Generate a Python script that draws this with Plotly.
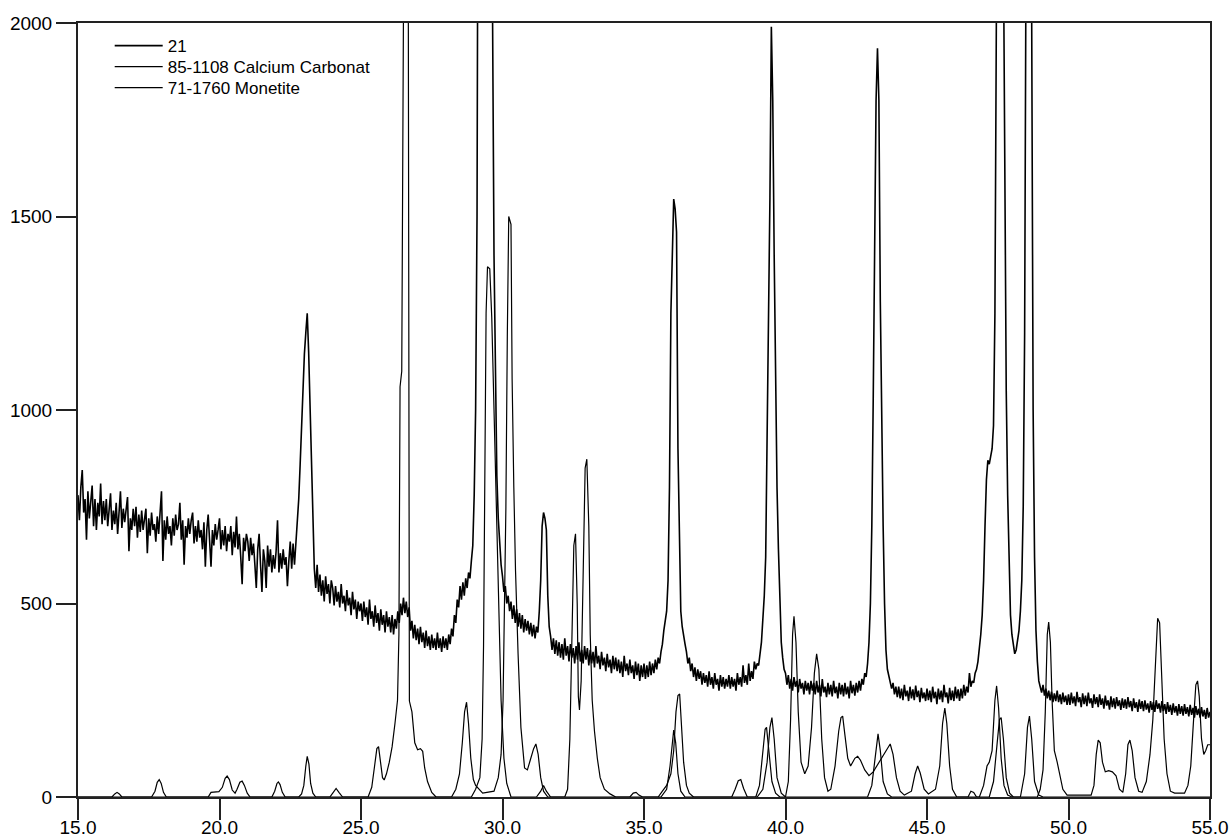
import plotly.graph_objects as go

# ---------------- data ----------------
# Sample "21": scan from 15.00 to 55.00 deg 2-theta, step 0.05 deg
SCAN_START = 15.0
SCAN_STEP = 0.05

counts_21 = [
    # 15.00 - 15.95
    780, 715, 800, 845, 735, 770, 665, 790, 720, 755, 805, 700, 770, 690, 760, 725, 810, 705, 765, 715,
    # 16
    770, 700, 745, 785, 690, 740, 705, 760, 680, 735, 790, 695, 745, 710, 750, 775, 635, 720, 690, 745,
    # 17
    700, 750, 670, 730, 685, 740, 690, 715, 745, 630, 720, 675, 735, 690, 705, 660, 725, 680, 740, 790,
    # 18
    610, 715, 665, 725, 680, 700, 650, 720, 675, 730, 690, 705, 760, 665, 715, 600, 700, 670, 720, 680,
    # 19
    715, 735, 655, 700, 660, 715, 670, 690, 640, 710, 595, 690, 730, 660, 595, 690, 650, 705, 665, 690,
    # 20
    720, 640, 690, 650, 700, 635, 680, 660, 700, 625, 685, 645, 725, 640, 680, 620, 550, 670, 635, 680,
    # 21
    660, 610, 670, 625, 655, 600, 540, 640, 680, 600, 530, 640, 610, 540, 650, 595, 640, 580, 625, 590,
    # 22
    635, 715, 580, 630, 590, 640, 600, 620, 545, 610, 660, 590, 655, 600, 660, 690, 770, 860, 970, 1090,
    # 23
    1145, 1200, 1250, 1150, 1000, 850, 710, 590, 540, 600, 530, 575, 520, 560, 505, 570, 525, 550, 500, 560,
    # 24
    540, 495, 545, 505, 530, 490, 550, 500, 520, 480, 535, 495, 515, 470, 530, 485, 510, 460, 505, 480,
    # 25
    500, 455, 505, 465, 490, 445, 510, 460, 480, 440, 495, 450, 475, 430, 485, 445, 470, 425, 480, 440,
    # 26
    465, 425, 470, 420, 460, 435, 480, 450, 500, 470, 515, 475, 505, 465, 490, 430, 455, 410, 445, 405,
    # 27
    435, 395, 440, 400, 425, 385, 430, 390, 415, 380, 420, 385, 410, 380, 425, 385, 410, 375, 415, 385,
    # 28
    410, 380, 420, 395, 435, 415, 470, 450, 510, 490, 545, 510, 555, 520, 565, 540, 580, 565, 610, 650,
    # 29
    780, 1000, 1500, 2300, 4000, 6000, 8000, 9500, 10000, 9000, 7000, 4500, 3000, 2000, 1400, 1050, 830, 720, 650, 600,
    # 30
    570, 530, 545, 500, 520, 480, 505, 460, 495, 450, 485, 440, 475, 435, 470, 425, 460, 430, 455, 420,
    # 31
    450, 415, 445, 410, 440, 425, 480, 560, 700, 735, 720, 690, 520, 440, 415, 380, 410, 370, 405, 365,
    # 32
    400, 360, 395, 355, 410, 365, 390, 350, 395, 360, 385, 345, 390, 355, 400, 350, 380, 345, 390, 355,
    # 33
    385, 340, 380, 345, 375, 335, 390, 345, 365, 330, 375, 340, 360, 325, 370, 335, 355, 320, 365, 330,
    # 34
    360, 325, 355, 320, 350, 310, 365, 325, 345, 315, 355, 320, 340, 305, 350, 315, 345, 300, 340, 310,
    # 35
    345, 305, 340, 310, 350, 315, 345, 320, 355, 330, 360, 345, 375, 395, 430, 455, 480, 560, 800, 1250,
    # 36
    1420, 1545, 1520, 1460, 900, 620, 480, 440, 410, 395, 375, 345, 360, 325, 345, 310, 335, 300, 330, 305,
    # 37
    325, 290, 320, 295, 315, 285, 325, 290, 310, 280, 320, 290, 305, 275, 315, 285, 310, 280, 305, 285,
    # 38
    315, 280, 310, 285, 305, 275, 320, 290, 310, 285, 340, 295, 315, 290, 345, 300, 325, 305, 350, 330,
    # 39
    345, 340, 370, 400, 460, 520, 620, 900, 1200, 1550, 1990, 1800, 1400, 1050, 800, 640, 480, 400, 360, 330,
    # 40
    320, 290, 315, 280, 305, 275, 310, 285, 300, 270, 305, 280, 295, 265, 300, 275, 295, 265, 300, 275,
    # 41
    295, 265, 300, 270, 290, 260, 305, 270, 285, 258, 295, 265, 290, 260, 300, 268, 285, 255, 295, 265,
    # 42
    290, 260, 295, 265, 285, 255, 300, 268, 290, 262, 295, 270, 300, 275, 305, 290, 320, 310, 345, 400,
    # 43
    500, 700, 1030, 1400, 1800, 1935, 1800, 1280, 900, 700, 500, 380, 330, 310, 300, 280, 295, 265, 285, 258,
    # 44
    285, 255, 280, 250, 290, 260, 275, 248, 285, 255, 278, 250, 288, 258, 275, 245, 282, 255, 270, 248,
    # 45
    280, 250, 275, 245, 285, 255, 272, 240, 280, 252, 275, 245, 290, 258, 270, 242, 282, 250, 275, 248,
    # 46
    285, 255, 278, 248, 280, 255, 290, 262, 285, 270, 320, 285, 300, 295, 320, 330, 350, 380, 420, 470,
    # 47
    560, 700, 820, 870, 860, 880, 900, 960, 1250, 2000, 3200, 3800, 3900, 3300, 2200, 1500, 1050, 780, 570, 470,
    # 48
    420, 390, 370, 380, 400, 430, 480, 560, 750, 1200, 2200, 3500, 4000, 3200, 2000, 1000, 620, 430, 350, 300,
    # 49
    285, 270, 290, 262, 280, 255, 275, 250, 272, 245, 268, 248, 275, 245, 265, 240, 270, 245, 262, 238,
    # 50
    265, 238, 270, 242, 260, 235, 272, 245, 258, 232, 268, 240, 262, 235, 270, 242, 255, 230, 265, 240,
    # 51
    258, 232, 265, 238, 255, 228, 262, 236, 250, 226, 260, 232, 255, 228, 258, 235, 250, 225, 255, 230,
    # 52
    252, 228, 258, 232, 248, 222, 255, 230, 245, 220, 252, 228, 248, 222, 250, 226, 242, 218, 248, 225,
    # 53
    245, 220, 250, 228, 242, 218, 248, 222, 240, 215, 245, 220, 238, 212, 242, 218, 235, 210, 240, 215,
    # 54
    235, 210, 240, 215, 232, 208, 238, 212, 230, 205, 235, 212, 228, 205, 232, 208, 225, 202, 230, 205,
    # 55.00
    220,
]
two_theta_21 = [round(SCAN_START + i * SCAN_STEP, 2) for i in range(len(counts_21))]

# Reference pattern 85-1108 Calcium Carbonate (profile points)
calcite_2theta = [
    15.0, 22.8, 22.9, 22.98, 23.05, 23.1, 23.16, 23.22, 23.3, 23.4,
    28.9, 29.05, 29.2, 29.28, 29.33, 29.38, 29.42, 29.47, 29.55, 29.62, 29.7, 29.78, 29.86, 29.95, 30.05, 30.15, 30.3,
    31.2, 31.35, 31.45, 31.55, 31.7,
    35.6, 35.8, 35.92, 36.0, 36.05, 36.12, 36.2, 36.3, 36.45,
    39.0, 39.2, 39.35, 39.45, 39.52, 39.6, 39.7, 39.85, 40.0,
    42.9, 43.05, 43.17, 43.27, 43.35, 43.45, 43.6, 43.75,
    46.85, 47.0, 47.12, 47.2, 47.3, 47.4, 47.46, 47.53, 47.62, 47.72, 47.85, 48.0,
    48.3, 48.45, 48.55, 48.62, 48.7, 48.8, 48.95, 49.1,
    55.0,
]
calcite_counts = [
    0, 0, 8, 30, 80, 105, 85, 35, 10, 0,
    0, 20, 50, 150, 390, 800, 1250, 1370, 1365, 1240, 1000, 740, 480, 250, 100, 35, 0,
    0, 15, 30, 15, 0,
    0, 20, 80, 150, 173, 140, 60, 15, 0,
    0, 20, 90, 180, 205, 150, 50, 10, 0,
    0, 30, 110, 163, 120, 40, 8, 0,
    0, 30, 80, 90, 120, 250, 287, 230, 100, 30, 5, 0,
    0, 60, 180, 209, 150, 40, 5, 0,
    0,
]

# Reference pattern 71-1760 Monetite (profile points)
monetite_2theta = [
    15.0, 16.2, 16.3, 16.38, 16.46, 16.55,
    17.6, 17.72, 17.8, 17.87, 17.94, 18.02, 18.12,
    19.6, 19.7, 19.85, 19.98, 20.1, 20.2, 20.27, 20.35, 20.45, 20.55, 20.62, 20.72, 20.8, 20.88, 20.98, 21.08,
    21.85, 21.95, 22.03, 22.08, 22.14, 22.22, 22.32,
    23.9, 24.02, 24.12, 24.22, 24.35,
    25.25, 25.38, 25.48, 25.56, 25.62, 25.68, 25.76, 25.82, 25.9, 26.0, 26.1, 26.2, 26.29, 26.34, 26.38,
    26.44, 26.47, 26.55, 26.66, 26.69, 26.71, 26.8, 26.9, 27.0, 27.1, 27.18, 27.25, 27.35, 27.5, 27.65,
    28.2, 28.35, 28.48, 28.58, 28.66, 28.73, 28.8, 28.88, 28.97, 29.05, 29.3,
    29.7, 29.85, 29.95, 30.02, 30.07, 30.12, 30.17, 30.22, 30.3, 30.34, 30.4, 30.46, 30.55, 30.65, 30.78,
    30.88, 30.98, 31.1, 31.18, 31.26, 31.35, 31.45, 31.6,
    32.2, 32.3, 32.38, 32.45, 32.52, 32.58, 32.64, 32.68, 32.72, 32.78, 32.85, 32.92, 32.98, 33.05, 33.1,
    33.17, 33.25, 33.35, 33.45, 33.6, 33.8, 34.0,
    34.5, 34.62, 34.72, 34.82, 34.95,
    35.5, 35.65, 35.8, 35.95, 36.05, 36.13, 36.2, 36.26, 36.32, 36.4, 36.5, 36.6, 36.75,
    38.1, 38.22, 38.33, 38.42, 38.52, 38.65,
    38.95, 39.08, 39.2, 39.28, 39.33, 39.42, 39.52, 39.65, 39.8,
    40.0, 40.1, 40.18, 40.25, 40.3, 40.37, 40.45, 40.55, 40.68, 40.8, 40.92, 41.02, 41.1, 41.18, 41.28,
    41.38, 41.5, 41.6, 41.75, 41.88, 41.96, 42.02, 42.1, 42.2, 42.3, 42.45, 42.55, 42.65, 42.8, 42.95,
    43.1, 43.3, 43.5, 43.62, 43.7, 43.8, 43.92, 44.05, 44.2, 44.45, 44.58, 44.67, 44.76, 44.9, 45.05,
    45.3, 45.45, 45.55, 45.63, 45.7, 45.8, 45.9, 46.05, 46.45, 46.55, 46.65, 46.75,
    47.2, 47.35, 47.48, 47.56, 47.62, 47.7, 47.8, 47.92, 48.05,
    48.9, 49.0, 49.1, 49.18, 49.25, 49.3, 49.36, 49.42, 49.5, 49.6, 49.7, 49.8, 49.95,
    50.8, 50.9, 50.98, 51.05, 51.12, 51.2, 51.3, 51.42, 51.55, 51.68, 51.8, 51.92, 52.02, 52.1, 52.17,
    52.25, 52.35, 52.48, 52.6, 52.75, 52.88, 52.98, 53.08, 53.15, 53.22, 53.3, 53.38, 53.48, 53.6, 53.75,
    54.1, 54.22, 54.32, 54.42, 54.5, 54.56, 54.62, 54.7, 54.78, 54.85, 54.92, 55.0,
]
monetite_counts = [
    0, 0, 8, 12, 8, 0,
    0, 15, 38, 45, 35, 12, 0,
    0, 12, 14, 14, 25, 48, 54, 45, 18, 10, 20, 38, 41, 30, 10, 0,
    0, 15, 35, 39, 32, 12, 0,
    0, 12, 22, 12, 0,
    0, 25, 80, 125, 130, 95, 50, 44, 60, 90, 130, 190, 250, 420, 1060,
    1100, 2600, 2800, 2600, 1000, 248, 220, 140, 122, 125, 118, 75, 40, 12, 0,
    0, 20, 60, 140, 220, 245, 190, 100, 45, 30, 10,
    15, 50, 110, 250, 500, 750, 1190, 1500, 1480, 1080, 800, 585, 370, 180, 75,
    70, 95, 125, 137, 110, 50, 15, 0,
    0, 20, 150, 400, 650, 680, 500, 260, 225, 300, 600, 850, 873, 700, 420,
    250, 170, 100, 50, 20, 8, 0,
    0, 10, 12, 5, 0,
    0, 15, 30, 60, 120, 220, 262, 266, 200, 90, 30, 10, 0,
    0, 20, 42, 45, 22, 0,
    0, 30, 110, 175, 180, 110, 40, 10, 0,
    0, 40, 200, 420, 467, 400, 220, 90, 60, 80, 180, 320, 370, 330, 150,
    50, 15, 20, 80, 170, 205, 209, 160, 100, 80, 100, 105, 95, 70, 55,
    65, 90, 115, 130, 137, 110, 50, 15, 5, 15, 60, 80, 62, 20, 8,
    20, 80, 190, 230, 190, 80, 20, 0, 0, 15, 12, 0,
    0, 40, 140, 200, 205, 150, 50, 10, 0,
    0, 20, 70, 220, 420, 452, 400, 250, 120, 90, 50, 20, 5,
    5, 30, 110, 147, 140, 90, 65, 68, 65, 55, 20, 12, 60, 135, 147,
    120, 50, 15, 12, 40, 110, 200, 380, 462, 450, 300, 150, 60, 15, 10,
    10, 30, 80, 200, 290, 300, 260, 150, 110, 120, 135, 135,
]

series_names = ["21", "85-1108 Calcium Carbonat", "71-1760 Monetite"]
x_tick_values = [15, 20, 25, 30, 35, 40, 45, 50, 55]
y_tick_values = [0, 500, 1000, 1500, 2000]

# ---------------- figure ----------------
FONT = "Liberation Sans, Arial, Helvetica, sans-serif"

fig = go.Figure()
traces = [
    (two_theta_21, counts_21, series_names[0], 1.6, "legend"),
    (calcite_2theta, calcite_counts, series_names[1], 1.2, "legend2"),
    (monetite_2theta, monetite_counts, series_names[2], 1.2, "legend3"),
]
for xs, ys, name, w, lg in traces:
    fig.add_trace(go.Scatter(
        x=xs, y=ys, mode="lines", name=name, legend=lg,
        line=dict(color="black", width=w),
        hoverinfo="skip",
    ))

legend_style = dict(
    x=0.028, xanchor="left", yanchor="top",
    bgcolor="rgba(0,0,0,0)", borderwidth=0,
    font=dict(family=FONT, size=17, color="black"),
    itemwidth=48,
)

fig.update_layout(
    template="none",
    width=1231, height=840,
    margin=dict(l=78, r=21, t=23, b=43, autoexpand=False),
    paper_bgcolor="white", plot_bgcolor="white",
    font=dict(family=FONT, size=19, color="black"),
    showlegend=True,
    legend=dict(y=0.9935, **legend_style),
    legend2=dict(y=0.9664, **legend_style),
    legend3=dict(y=0.9393, **legend_style),
)
fig.update_xaxes(
    range=[15, 55], tickvals=x_tick_values, tickformat=".1f",
    ticks="outside", ticklen=21, tickwidth=2, tickcolor="#222",
    showline=True, linewidth=2, linecolor="#222", mirror=True,
    showgrid=False, zeroline=False, automargin=False,
    ticklabelstandoff=-9,
    tickfont=dict(family=FONT, size=19, color="black"),
)
fig.update_yaxes(
    range=[0, 2000], tickvals=y_tick_values,
    ticks="outside", ticklen=20, tickwidth=2, tickcolor="#222",
    showline=True, linewidth=2, linecolor="#222", mirror=True,
    showgrid=False, zeroline=False, automargin=False,
    tickfont=dict(family=FONT, size=19, color="black"),
)

fig.write_html("out.html")
